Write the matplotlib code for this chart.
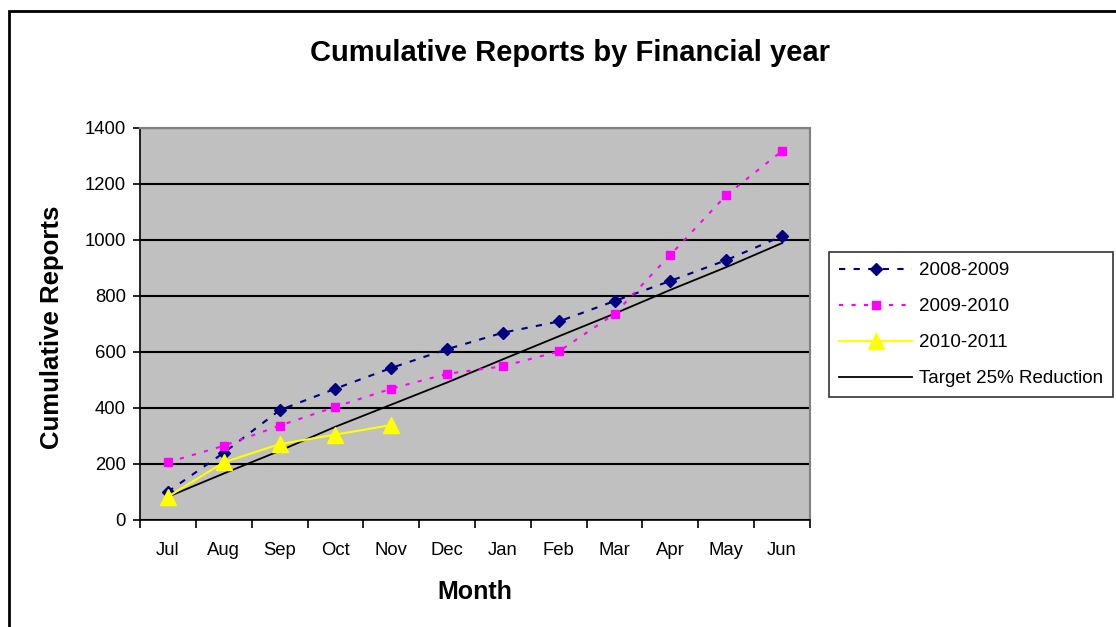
import matplotlib
matplotlib.use("Agg")
import matplotlib.pyplot as plt
from matplotlib.patches import Rectangle

plt.rcParams['font.family'] = ['Liberation Sans', 'DejaVu Sans']

months = ["Jul", "Aug", "Sep", "Oct", "Nov", "Dec", "Jan", "Feb", "Mar", "Apr", "May", "Jun"]
fy_2008_2009 = [101, 240, 392, 469, 543, 610, 669, 709, 782, 854, 928, 1014]
fy_2009_2010 = [206, 265, 337, 404, 469, 522, 549, 602, 736, 947, 1160, 1318]
fy_2010_2011 = [83, 206, 271, 305, 339]
target = [83, 166, 247, 333, 412, 491, 574, 656, 737, 822, 903, 989]
yticks = [0, 200, 400, 600, 800, 1000, 1200, 1400]

W, H = 1116, 627
fig = plt.figure(figsize=(W / 100, H / 100), dpi=100)
ax = fig.add_axes([140 / W, 1 - 520 / H, 670 / W, 392 / H])
ax.set_facecolor('#C0C0C0')

x_all = list(range(len(months)))
ax.plot(x_all, fy_2008_2009, color='#000080', linestyle=(0, (3, 4)), linewidth=1.5,
        marker='D', markersize=6, label='2008-2009', zorder=4)
ax.plot(x_all, fy_2009_2010, color='#FF00FF', linestyle=(0, (2, 4)), linewidth=1.5,
        marker='s', markersize=6, label='2009-2010', zorder=4)
ax.plot(x_all[:len(fy_2010_2011)], fy_2010_2011, color='#FFFF00', linestyle='-', linewidth=1.5,
        marker='^', markersize=11, label='2010-2011', zorder=5)
ax.plot(x_all, target, color='black', linestyle='-', linewidth=1.3,
        label='Target 25% Reduction', zorder=3)

ax.set_xlim(-0.5, 11.5)
ax.set_ylim(0, 1400)
ax.set_yticks(yticks)
ax.set_yticklabels([str(v) for v in yticks], fontsize=13.3)
ax.yaxis.grid(True, color='black', linewidth=1.5)
ax.set_axisbelow(True)

ax.set_xticks([i - 0.5 for i in range(len(months) + 1)])
ax.set_xticklabels([])
ax.set_xticks(x_all, minor=True)
ax.set_xticklabels(months, minor=True, fontsize=13.3)
ax.tick_params(axis='x', which='major', length=6, width=1.2, direction='out')
ax.tick_params(axis='x', which='minor', length=0, pad=16)
ax.tick_params(axis='y', length=5, width=1.2, direction='out', pad=5)

for s in ['left', 'bottom']:
    ax.spines[s].set_color('black')
    ax.spines[s].set_linewidth(1.2)
for s in ['top', 'right']:
    ax.spines[s].set_color('#808080')
    ax.spines[s].set_linewidth(1.5)

fig.text(570 / W, 1 - 53 / H, 'Cumulative Reports by Financial year', ha='center', va='center',
         fontsize=21, fontweight='bold')
fig.text(52 / W, 1 - 327 / H, 'Cumulative Reports', ha='center', va='center', rotation=90,
         fontsize=18.5, fontweight='bold')
fig.text(475 / W, 1 - 592 / H, 'Month', ha='center', va='center', fontsize=18, fontweight='bold')

leg = fig.legend(loc='upper left', bbox_to_anchor=(829 / W, 1 - 252 / H), fontsize=13.5,
                 frameon=True, fancybox=False, edgecolor='black', handlelength=3.9,
                 borderpad=0.55, labelspacing=1.0, handletextpad=0.35, borderaxespad=0)
leg.get_frame().set_linewidth(1.2)

fig.patches.append(Rectangle((9 / W, -0.1), 1.2, 1 - 11 / H + 0.1, transform=fig.transFigure,
                             fill=False, edgecolor='black', linewidth=2))

fig.savefig('out.png', dpi=100)
